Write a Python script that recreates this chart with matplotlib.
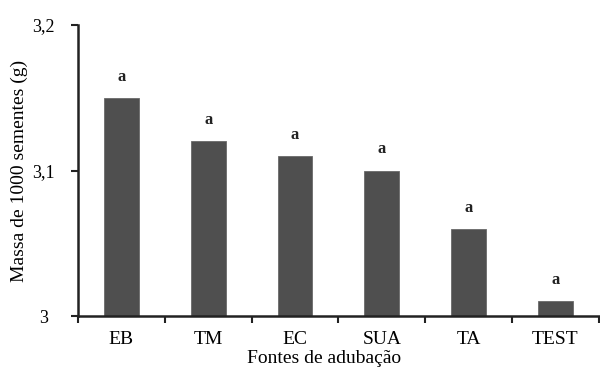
import matplotlib
matplotlib.use("Agg")
import matplotlib.pyplot as plt
import numpy as np

categories = ["EB", "TM", "EC", "SUA", "TA", "TEST"]
values = [3.15, 3.12, 3.11, 3.10, 3.06, 3.01]
letters = ["a", "a", "a", "a", "a", "a"]
yticks = [3.0, 3.1, 3.2]
ytick_labels = ["3", "3,1", "3,2"]

plt.rcParams["font.family"] = ["Liberation Serif", "DejaVu Serif"]

fig = plt.figure(figsize=(6, 3.69), dpi=100)
ax = fig.add_axes([0.13, 0.1436, 0.868, 0.7884])

x = np.arange(len(categories))
base = 3.0
ax.bar(x, np.array(values) - base, bottom=base, width=0.4,
       color="#4f4f4f", edgecolor="#6a6a6a", linewidth=0.6, zorder=2)

for xi, v, t in zip(x, values, letters):
    ax.text(xi, v + 0.009, t, ha="center", va="bottom", fontsize=12,
            fontweight="bold", color="#222222")

ax.set_xlim(-0.5, len(categories) - 0.5)
ax.set_ylim(3.0, 3.2)
ax.set_yticks(yticks)
ax.set_yticklabels(ytick_labels, fontsize=13, ha="center")

# category labels centred under bars, ticks on the category boundaries
ax.set_xticks(x)
ax.set_xticklabels(categories, fontsize=14)
ax.tick_params(axis="x", which="major", length=0, pad=11)
ax.set_xticks(np.arange(-0.5, len(categories)), minor=True)
ax.tick_params(axis="x", which="minor", length=5, width=1.5, direction="out",
               color="#222222")
ax.tick_params(axis="y", length=5, width=1.5, direction="out", color="#222222",
               pad=20)

ax.spines["top"].set_visible(False)
ax.spines["right"].set_visible(False)
ax.spines["left"].set_linewidth(1.8)
ax.spines["bottom"].set_linewidth(1.8)
ax.spines["left"].set_color("#222222")
ax.spines["bottom"].set_color("#222222")

ax.set_xlabel("Fontes de adubação", fontsize=14, labelpad=1)
ax.xaxis.set_label_coords(0.472, -0.118)
ax.set_ylabel("Massa de 1000 sementes (g)", fontsize=14, labelpad=3)

fig.savefig("out.png", dpi=100)
